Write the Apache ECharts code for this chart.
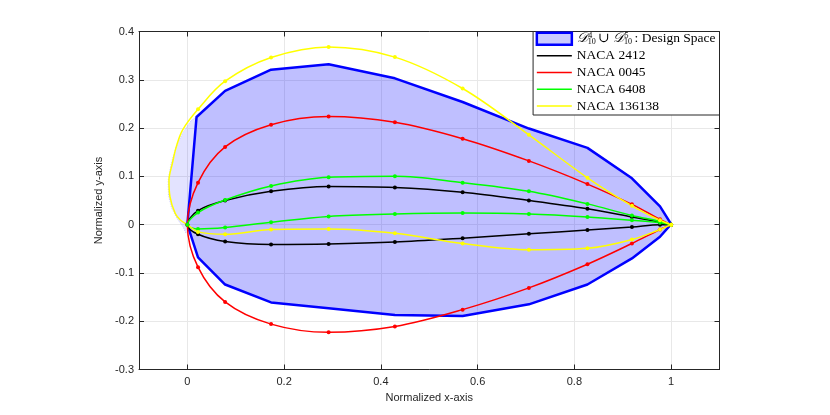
<!DOCTYPE html>
<html>
<head>
<meta charset="utf-8">
<script src="https://cdn.jsdelivr.net/npm/echarts@6/dist/echarts.min.js"></script>
<style>
  html, body { margin: 0; padding: 0; background: #fff; }
  #chart { width: 830px; height: 415px; }
</style>
</head>
<body>
<div id="chart"></div>
<script>
// values
var xTicks = [0, 0.2, 0.4, 0.6, 0.8, 1];

var naca2412Upper = [[1, 0], [0.977, 0.005], [0.919, 0.016], [0.827, 0.033], [0.706, 0.050], [0.569, 0.067],
  [0.429, 0.077], [0.292, 0.079], [0.173, 0.069], [0.078, 0.050], [0.022, 0.029], [0, 0]];
var naca2412Lower = [[0.022, -0.020], [0.078, -0.035], [0.173, -0.041], [0.292, -0.040], [0.429, -0.036],
  [0.569, -0.028], [0.706, -0.019], [0.827, -0.011], [0.919, -0.005], [0.977, 0], [1, 0]];

var naca0045Upper = [[1, 0], [0.977, 0.011], [0.919, 0.042], [0.827, 0.084], [0.706, 0.132], [0.569, 0.178],
  [0.429, 0.212], [0.292, 0.224], [0.173, 0.207], [0.078, 0.161], [0.022, 0.087], [0, 0]];
var naca0045Lower = [[0.022, -0.088], [0.078, -0.160], [0.173, -0.206], [0.292, -0.223], [0.429, -0.211],
  [0.569, -0.176], [0.706, -0.131], [0.827, -0.082], [0.919, -0.039], [0.977, -0.010], [1, 0]];

var naca6408Upper = [[1, 0], [0.977, 0.007], [0.919, 0.019], [0.827, 0.043], [0.706, 0.069], [0.569, 0.087],
  [0.429, 0.100], [0.292, 0.098], [0.173, 0.080], [0.078, 0.051], [0.022, 0.025], [0, 0]];
var naca6408Lower = [[0.022, -0.009], [0.078, -0.006], [0.173, 0.005], [0.292, 0.017], [0.429, 0.022],
  [0.569, 0.024], [0.706, 0.022], [0.827, 0.016], [0.919, 0.009], [0.977, 0.004], [1, 0]];

var naca136138Upper = [[1, 0], [0.977, 0.009], [0.919, 0.039], [0.827, 0.097], [0.706, 0.186], [0.569, 0.282],
  [0.429, 0.347], [0.292, 0.368], [0.173, 0.346], [0.078, 0.297], [0.022, 0.239]];
var naca136138Nose = [[-0.010, 0.196], [-0.023, 0.161], [-0.031, 0.127], [-0.038, 0.092], [-0.036, 0.058],
  [-0.025, 0.023], [-0.014, 0.009], [0, 0]];
var naca136138Lower = [[0.022, -0.015], [0.078, -0.020], [0.173, -0.010], [0.292, -0.009], [0.429, -0.018],
  [0.569, -0.039], [0.706, -0.052], [0.827, -0.049], [0.919, -0.031], [0.977, -0.010], [1, 0]];

// design space boundary (union of D4 and D5)
var designSpace = [[0, 0], [0.019, 0.223], [0.078, 0.277], [0.173, 0.321], [0.292, 0.332], [0.429, 0.303],
  [0.569, 0.254], [0.706, 0.199], [0.827, 0.159], [0.919, 0.096], [0.977, 0.038], [1, 0.001],
  [0.977, -0.025], [0.919, -0.070], [0.827, -0.124], [0.706, -0.165], [0.569, -0.189], [0.429, -0.187],
  [0.292, -0.173], [0.173, -0.161], [0.078, -0.124], [0.022, -0.068]];
// lighter part of the patch in front of the leading edge
var designNose = [[0.019, 0.223], [0.008, 0.216], [-0.010, 0.190], [-0.024, 0.160], [-0.034, 0.125],
  [-0.040, 0.090], [-0.039, 0.060], [-0.033, 0.035], [-0.021, 0.012], [-0.009, -0.005], [-0.003, -0.018],
  [0.004, -0.012], [0, 0]];

var designName = 'D4 u D5: Design Space';
var lineIcon = 'path://M0,0H36V1.6H0Z';

function polygon(points, style) {
  return function (params, api) {
    return {
      type: 'polygon',
      shape: { points: points.map(function (p) { return api.coord(p); }) },
      style: style
    };
  };
}

function airfoil(name, color, data) {
  return {
    name: name,
    type: 'line',
    data: data,
    smooth: 0.35,
    symbol: 'circle',
    symbolSize: 4,
    showSymbol: true,
    color: color,
    lineStyle: { width: 1.5, color: color },
    itemStyle: { color: color },
    z: 3
  };
}

var chart = echarts.init(document.getElementById('chart'));

var axisColor = '#262626';
var labelFont = { color: axisColor, fontSize: 11, fontFamily: 'Liberation Sans, Arial, sans-serif' };

var option = {
  animation: false,
  backgroundColor: '#fff',
  grid: { left: 139, right: 110.5, top: 31.5, bottom: 45.5, containLabel: false },
  legend: {
    orient: 'vertical',
    right: 110.5,
    top: 31.5,
    padding: [0, 4, 2, 2.5],
    itemGap: 2.75,
    itemWidth: 35,
    itemHeight: 12,
    itemTextGap: 2,
    selectedMode: false,
    backgroundColor: '#fff',
    borderColor: axisColor,
    borderWidth: 1,
    textStyle: {
      fontFamily: 'Liberation Serif, DejaVu Serif, serif',
      fontSize: 13.5,
      color: '#000',
      lineHeight: 14,
      rich: {
        d: { fontFamily: 'DejaVu Serif, Liberation Serif, serif', fontStyle: 'italic', fontSize: 13.5, lineHeight: 14 },
        sub: { fontFamily: 'Liberation Serif, serif', fontSize: 8, lineHeight: 8, verticalAlign: 'bottom', width: 0.5 },
        sup: { fontFamily: 'Liberation Serif, serif', fontSize: 8, lineHeight: 8, verticalAlign: 'top', width: 10 },
        t: { fontFamily: 'Liberation Serif, DejaVu Serif, serif', fontSize: 13.5, lineHeight: 14 }
      }
    },
    formatter: function (name) {
      if (name === designName) {
        return '{d|\uD835\uDC9F}{sub|10}{sup|4}{t|\u222A }{d|\uD835\uDC9F}{sub|10}{sup|5}{t|: Design Space}';
      }
      return name;
    },
    data: [
      { name: designName, icon: 'rect', itemStyle: { color: 'rgba(0,0,255,0.2)', borderColor: '#0000ff', borderWidth: 2.5 } },
      { name: 'NACA 2412', icon: lineIcon },
      { name: 'NACA 0045', icon: lineIcon },
      { name: 'NACA 6408', icon: lineIcon },
      { name: 'NACA 136138', icon: lineIcon }
    ]
  },
  xAxis: [{
    type: 'value',
    min: -0.1,
    max: 1.1,
    name: 'Normalized x-axis',
    nameLocation: 'middle',
    nameGap: 22,
    nameTextStyle: labelFont,
    axisLine: { show: true, onZero: false, lineStyle: { color: axisColor, width: 1 } },
    axisTick: { show: true, inside: true, length: 5, customValues: xTicks, lineStyle: { color: axisColor } },
    axisLabel: Object.assign({ customValues: xTicks, margin: 7 }, labelFont),
    splitLine: { show: true, lineStyle: { color: '#e8e8e8', width: 1 } }
  }, {
    type: 'value',
    min: -0.1,
    max: 1.1,
    position: 'top',
    axisLine: { show: true, onZero: false, lineStyle: { color: axisColor, width: 1 } },
    axisTick: { show: true, inside: true, length: 5, customValues: xTicks, lineStyle: { color: axisColor } },
    axisLabel: { show: false },
    splitLine: { show: false }
  }],
  yAxis: [{
    type: 'value',
    min: -0.3,
    max: 0.4,
    interval: 0.1,
    name: 'Normalized y-axis',
    nameLocation: 'middle',
    nameGap: 21,
    nameTextStyle: labelFont,
    axisLine: { show: true, onZero: false, lineStyle: { color: axisColor, width: 1 } },
    axisTick: { show: true, inside: true, length: 5, lineStyle: { color: axisColor } },
    axisLabel: Object.assign({ margin: 5 }, labelFont),
    splitLine: { show: true, lineStyle: { color: '#e8e8e8', width: 1 } }
  }, {
    type: 'value',
    min: -0.3,
    max: 0.4,
    interval: 0.1,
    position: 'right',
    axisLine: { show: true, onZero: false, lineStyle: { color: axisColor, width: 1 } },
    axisTick: { show: true, inside: true, length: 5, lineStyle: { color: axisColor } },
    axisLabel: { show: false },
    splitLine: { show: false }
  }],
  series: [
    {
      type: 'custom',
      silent: true,
      data: [[0, 0]],
      renderItem: polygon(designNose, { fill: 'rgba(0,0,255,0.11)', stroke: 'rgba(90,90,255,0.5)', lineWidth: 0.6, lineDash: [1, 1.5] }),
      z: 1
    },
    {
      name: designName,
      type: 'custom',
      silent: true,
      data: [[0, 0]],
      itemStyle: { color: 'rgba(0,0,255,0.2)' },
      renderItem: polygon(designSpace, { fill: 'rgba(0,0,255,0.25)', stroke: '#0000ff', lineWidth: 2.5, lineJoin: 'round' }),
      z: 2
    },
    airfoil('NACA 2412', '#000000', naca2412Upper.concat(naca2412Lower)),
    airfoil('NACA 0045', '#ff0000', naca0045Upper.concat(naca0045Lower)),
    airfoil('NACA 6408', '#00ff00', naca6408Upper.concat(naca6408Lower)),
    airfoil('NACA 136138', '#ffff00', naca136138Upper.map(function (p) { return p; })
      .concat(naca136138Nose.map(function (p) { return { value: p, symbol: 'none' }; }))
      .concat(naca136138Lower))
  ]
};

chart.setOption(option);
</script>
</body>
</html>
